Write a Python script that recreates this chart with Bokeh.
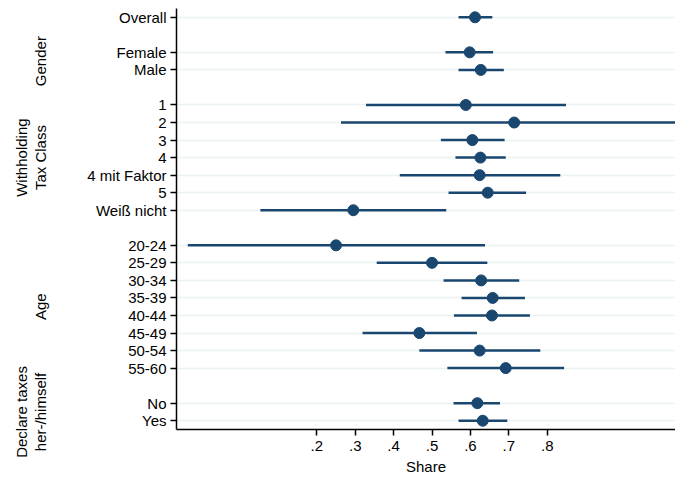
from math import pi
from bokeh.plotting import figure
from bokeh.layouts import row
from bokeh.models import ColumnDataSource, FixedTicker, Range1d
from bokeh.core.properties import value
from bokeh.embed import file_html
from bokeh.resources import INLINE

labels = ["Overall", "Female", "Male", "1", "2", "3", "4", "4 mit Faktor", "5",
          "Weiß nicht", "20-24", "25-29", "30-34", "35-39", "40-44", "45-49",
          "50-54", "55-60", "No", "Yes"]
rows = [0, 2, 3, 5, 6, 7, 8, 9, 10, 11, 13, 14, 15, 16, 17, 18, 19, 20, 22, 23]
share = [0.612, 0.598, 0.627, 0.588, 0.714, 0.605, 0.626, 0.624, 0.645, 0.295,
         0.250, 0.500, 0.628, 0.658, 0.656, 0.467, 0.624, 0.692, 0.618, 0.632]
ci_low = [0.569, 0.535, 0.569, 0.328, 0.263, 0.523, 0.561, 0.416, 0.543, 0.053,
          -0.136, 0.356, 0.530, 0.577, 0.557, 0.319, 0.467, 0.540, 0.556, 0.569]
ci_high = [0.657, 0.659, 0.687, 0.849, 1.166, 0.689, 0.692, 0.834, 0.745, 0.537,
           0.638, 0.644, 0.727, 0.742, 0.755, 0.617, 0.782, 0.844, 0.677, 0.696]
group_lines = [["Gender"], ["Withholding", "Tax Class"], ["Age"],
               ["Declare taxes", "her-/himself"]]
group_mid = [2.5, 8, 16.5, 22.5]
x_ticks = [0.2, 0.3, 0.4, 0.5, 0.6, 0.7, 0.8]
x_tick_labels = [".2", ".3", ".4", ".5", ".6", ".7", ".8"]

NAVY = "#1a476f"
FONT = "Liberation Sans"
FS = "15px"
LEFT_W = 68
TOP = 8
FRAME_H = 421
TOTAL_H = 479
PX_PER_ROW = FRAME_H / 24.0

src = ColumnDataSource(dict(y=rows, x=share, lo=ci_low, hi=ci_high))

p = figure(frame_width=499, frame_height=FRAME_H, output_backend="svg", toolbar_location=None,
           x_range=Range1d(-0.1654, 1.134), y_range=Range1d(23.5, -0.5),
           min_border_left=176 - LEFT_W, min_border_right=0, min_border_top=TOP,
           min_border_bottom=TOTAL_H - TOP - FRAME_H)
p.outline_line_color = None
p.background_fill_color = "white"
p.border_fill_color = "white"

p.segment(x0="lo", x1="hi", y0="y", y1="y", source=src, line_color=NAVY, line_width=2.5)
p.scatter(x="x", y="y", source=src, size=11, fill_color=NAVY, line_color=NAVY)

p.yaxis.ticker = FixedTicker(ticks=rows)
p.yaxis.major_label_overrides = {r: l for r, l in zip(rows, labels)}
p.xaxis.ticker = FixedTicker(ticks=x_ticks)
p.xaxis.major_label_overrides = {t: l for t, l in zip(x_ticks, x_tick_labels)}
for ax in (p.xaxis[0], p.yaxis[0]):
    ax.axis_line_color = "#000000"
    ax.axis_line_width = 1.5
    ax.major_tick_line_color = "#000000"
    ax.major_tick_line_width = 1.5
    ax.major_tick_out = 6
    ax.major_tick_in = 0
    ax.minor_tick_line_color = None
    ax.major_label_text_font = FONT
    ax.major_label_text_font_size = FS
    ax.major_label_text_color = "black"
p.yaxis.major_label_standoff = 4
p.xaxis.major_label_standoff = 5
p.xaxis.axis_label = "Share"
p.xaxis.axis_label_text_font = FONT
p.xaxis.axis_label_text_font_size = FS
p.xaxis.axis_label_text_font_style = "normal"
p.xaxis.axis_label_text_color = "black"
p.xaxis.axis_label_standoff = 4

p.xgrid.grid_line_color = None
p.ygrid.ticker = FixedTicker(ticks=rows)
p.ygrid.grid_line_color = "#eaf2f3"
p.ygrid.grid_line_width = 1.6

# left strip with rotated group titles (same vertical scale as the main plot)
gx, gy, gt = [], [], []
for lines, m in zip(group_lines, group_mid):
    xs = [40] if len(lines) == 1 else [21, 40]
    for t, xx in zip(lines, xs):
        gx.append(xx)
        gy.append(m)
        gt.append(t)

strip_h = TOTAL_H - TOP
g = figure(frame_width=LEFT_W, frame_height=strip_h, output_backend="svg",
           toolbar_location=None, x_range=Range1d(0, LEFT_W),
           y_range=Range1d(-0.5 + strip_h / PX_PER_ROW, -0.5),
           min_border_left=0, min_border_right=0, min_border_top=TOP, min_border_bottom=0)
g.axis.visible = False
g.grid.visible = False
g.outline_line_color = None
g.text(x=gx, y=gy, text=gt, angle=pi / 2, text_align="center", text_baseline="middle",
       text_font=value(FONT), text_font_size=FS, text_color="black")

layout = row(g, p)
open("out.html", "w").write(file_html(layout, INLINE))
